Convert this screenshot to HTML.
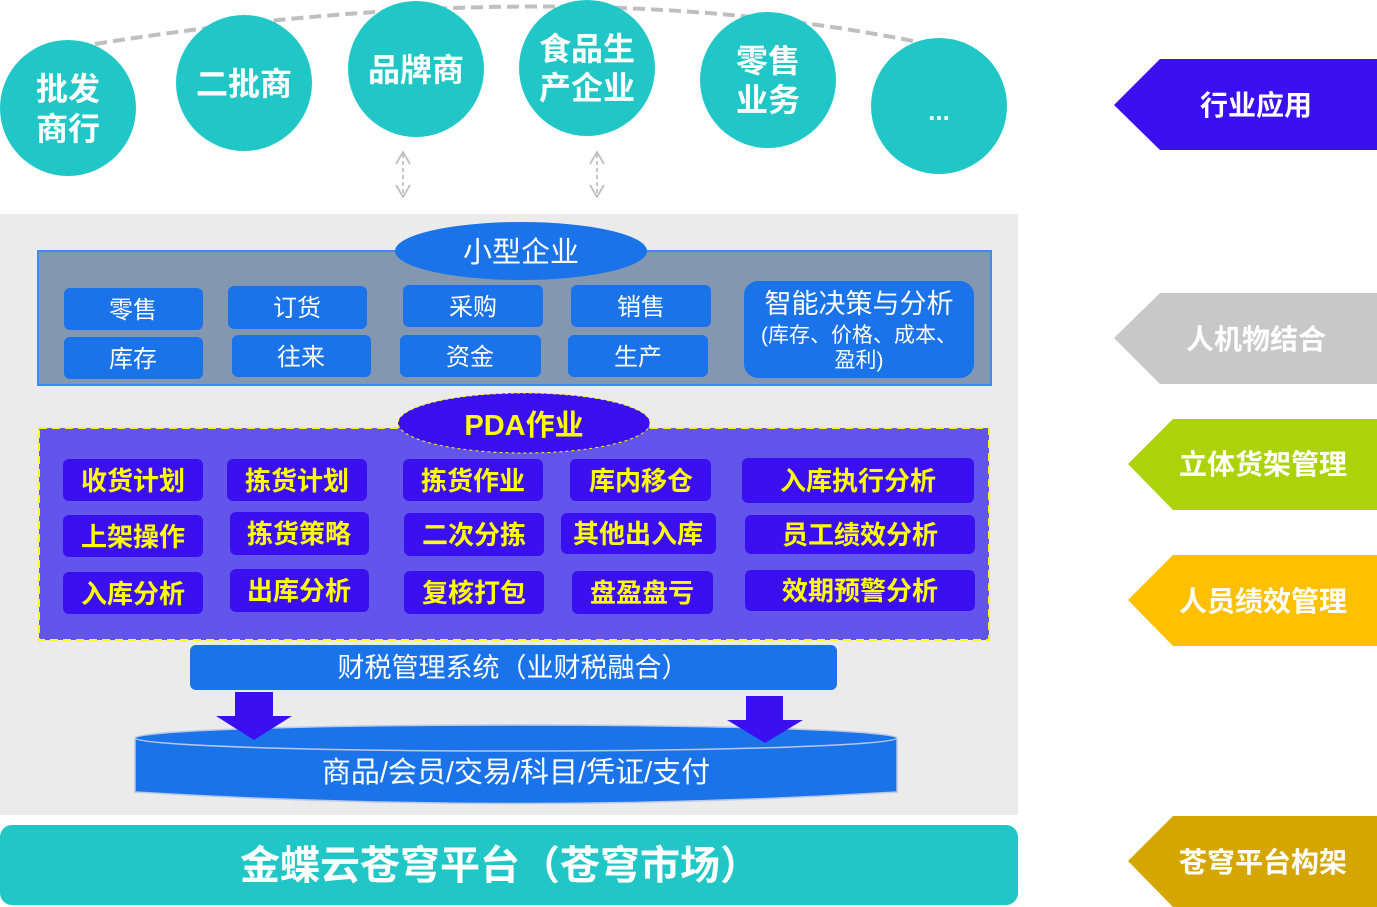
<!DOCTYPE html>
<html><head><meta charset="utf-8"><style>
html,body{margin:0;padding:0;background:#fff;}
svg{display:block;}
text{font-family:"Liberation Sans","Noto Sans CJK SC",sans-serif;}
</style></head><body>
<svg width="1377" height="907" viewBox="0 0 1377 907" xmlns="http://www.w3.org/2000/svg">
<defs>
<marker id="ah" viewBox="0 0 10 10" refX="5" refY="5" markerWidth="8" markerHeight="8" orient="auto-start-reverse"><path d="M1,1 L5,5 L1,9" fill="none" stroke="#c0c0c0" stroke-width="1.5"/></marker>
</defs>
<!-- gray bg -->
<rect x="0" y="214" width="1018" height="601" fill="#ebebeb"/>
<!-- dashed arc -->
<path d="M95,44 Q560,-30 918,42" fill="none" stroke="#bfbfbf" stroke-width="4" stroke-dasharray="12,6"/>
<!-- circles -->
<g fill="#21c7c7">
<ellipse cx="68" cy="108" rx="68" ry="68"/>
<ellipse cx="244" cy="83" rx="68" ry="68"/>
<ellipse cx="416" cy="69" rx="68" ry="68"/>
<ellipse cx="587" cy="68" rx="68" ry="68"/>
<ellipse cx="768" cy="80" rx="68" ry="68"/>
<ellipse cx="939" cy="106" rx="68" ry="68"/>
</g>
<g fill="#fff" font-weight="bold" font-size="32" text-anchor="middle">
<text x="68" y="100">批发</text><text x="68" y="140">商行</text>
<text x="244" y="95">二批商</text>
<text x="416" y="81">品牌商</text>
<text x="587" y="60">食品生</text><text x="587" y="99">产企业</text>
<text x="768" y="72">零售</text><text x="768" y="111">业务</text>
<text x="939" y="120" font-size="26">...</text>
</g>
<!-- small dashed arrows -->
<g stroke="#c0c0c0" stroke-width="1.8" stroke-dasharray="4,3" fill="none">
<line x1="403" y1="154" x2="403" y2="195"/>
<line x1="597" y1="154" x2="597" y2="195"/>
</g>
<g stroke="#c0c0c0" stroke-width="1.8" fill="none">
<path d="M396,164 L403,152 L410,164"/><path d="M396,185 L403,197 L410,185"/>
<path d="M590,164 L597,152 L604,164"/><path d="M590,185 L597,197 L604,185"/>
</g>
<!-- small enterprise box -->
<rect x="38" y="251" width="953" height="134" fill="#8497b0" stroke="#3d8bf0" stroke-width="2"/>
<ellipse cx="521" cy="251" rx="126" ry="29" fill="#1a73e8"/>
<text x="521" y="262" fill="#fff" font-size="29" text-anchor="middle">小型企业</text>
<g fill="#1a73e8">
<rect x="64" y="288" width="139" height="42" rx="6"/>
<rect x="228" y="286" width="139" height="43" rx="6"/>
<rect x="403" y="285" width="140" height="42" rx="6"/>
<rect x="571" y="285" width="140" height="42" rx="6"/>
<rect x="64" y="337" width="139" height="42" rx="6"/>
<rect x="232" y="335" width="139" height="42" rx="6"/>
<rect x="400" y="335" width="141" height="42" rx="6"/>
<rect x="568" y="335" width="140" height="42" rx="6"/>
<rect x="744" y="281" width="230" height="97" rx="14"/>
</g>
<g fill="#fff" font-size="24" text-anchor="middle">
<text x="133" y="318">零售</text><text x="297" y="316">订货</text><text x="473" y="315">采购</text><text x="641" y="315">销售</text>
<text x="133" y="367">库存</text><text x="301" y="365">往来</text><text x="470" y="365">资金</text><text x="638" y="365">生产</text>
<text x="859" y="313" font-size="27">智能决策与分析</text>
<text x="859" y="342" font-size="21">(库存、价格、成本、</text>
<text x="859" y="367" font-size="21">盈利)</text>
</g>
<!-- PDA box -->
<rect x="39" y="428" width="950" height="212" fill="#6155ec" stroke="#ffff00" stroke-width="2" stroke-dasharray="8,5"/>
<ellipse cx="524" cy="423" rx="126" ry="30" fill="#3a10f0" stroke="#ffff00" stroke-width="1" stroke-dasharray="3,3"/>
<text x="524" y="435" fill="#ffff00" font-size="29" font-weight="bold" text-anchor="middle">PDA作业</text>
<g fill="#3a10f0">
<rect x="63" y="459" width="140" height="42" rx="6"/>
<rect x="227" y="459" width="140" height="42" rx="6"/>
<rect x="403" y="459" width="140" height="42" rx="6"/>
<rect x="570" y="459" width="141" height="42" rx="6"/>
<rect x="742" y="458" width="232" height="45" rx="6"/>
<rect x="63" y="515" width="140" height="42" rx="6"/>
<rect x="230" y="512" width="139" height="43" rx="6"/>
<rect x="404" y="513" width="140" height="43" rx="6"/>
<rect x="561" y="513" width="155" height="41" rx="6"/>
<rect x="745" y="515" width="230" height="39" rx="6"/>
<rect x="63" y="572" width="140" height="42" rx="6"/>
<rect x="230" y="569" width="139" height="43" rx="6"/>
<rect x="404" y="571" width="140" height="43" rx="6"/>
<rect x="572" y="571" width="141" height="43" rx="6"/>
<rect x="745" y="570" width="230" height="41" rx="6"/>
</g>
<g fill="#ffff00" font-size="26" font-weight="bold" text-anchor="middle">
<text x="133" y="490">收货计划</text><text x="297" y="490">拣货计划</text><text x="473" y="490">拣货作业</text><text x="641" y="490">库内移仓</text><text x="858" y="490">入库执行分析</text>
<text x="133" y="546">上架操作</text><text x="299" y="543">拣货策略</text><text x="474" y="544">二次分拣</text><text x="638" y="543">其他出入库</text><text x="860" y="544">员工绩效分析</text>
<text x="133" y="603">入库分析</text><text x="299" y="600">出库分析</text><text x="474" y="602">复核打包</text><text x="642" y="602">盘盈盘亏</text><text x="860" y="600">效期预警分析</text>
</g>
<!-- finance bar -->
<rect x="190" y="645" width="647" height="45" rx="6" fill="#1a73e8"/>
<text x="513" y="677" fill="#fff" font-size="27" text-anchor="middle">财税管理系统（业财税融合）</text>
<!-- cylinder -->
<path d="M135,738 L135,792 Q516,815 897,792 L897,738 Z" fill="#1a73e8" stroke="#b8c8e8" stroke-width="1.5"/>
<ellipse cx="516" cy="738" rx="381" ry="13" fill="#1a73e8" stroke="#b8c8e8" stroke-width="1.5"/>
<text x="516" y="782" fill="#fff" font-size="29" text-anchor="middle">商品/会员/交易/科目/凭证/支付</text>
<!-- arrows -->
<path d="M235,692 L273,692 L273,716 L292,716 L254,740 L216,716 L235,716 Z" fill="#3a10f0"/>
<path d="M746,696 L783,696 L783,720 L803,720 L765,743 L727,720 L746,720 Z" fill="#3a10f0"/>
<!-- bottom platform -->
<rect x="0" y="825" width="1018" height="80" rx="12" fill="#21c7c7"/>
<text x="500" y="879" fill="#fff" font-size="40" font-weight="bold" text-anchor="middle">金蝶云苍穹平台（苍穹市场）</text>
<!-- right tags -->
<path d="M1114,105 L1160,59 L1377,59 L1377,150 L1160,150 Z" fill="#3a10f0"/>
<text x="1256" y="115" fill="#fff" font-size="28" font-weight="bold" text-anchor="middle">行业应用</text>
<path d="M1114,338 L1160,293 L1377,293 L1377,384 L1160,384 Z" fill="#c8c8c8"/>
<text x="1256" y="349" fill="#fff" font-size="28" font-weight="bold" text-anchor="middle">人机物结合</text>
<path d="M1128,464 L1173,419 L1377,419 L1377,510 L1173,510 Z" fill="#abd308"/>
<text x="1263" y="474" fill="#fff" font-size="28" font-weight="bold" text-anchor="middle">立体货架管理</text>
<path d="M1128,600 L1173,555 L1377,555 L1377,646 L1173,646 Z" fill="#ffc000"/>
<text x="1263" y="611" fill="#fff" font-size="28" font-weight="bold" text-anchor="middle">人员绩效管理</text>
<path d="M1128,861 L1173,816 L1377,816 L1377,907 L1173,907 Z" fill="#d6a600"/>
<text x="1263" y="872" fill="#fff" font-size="28" font-weight="bold" text-anchor="middle">苍穹平台构架</text>
</svg>
</body></html>
